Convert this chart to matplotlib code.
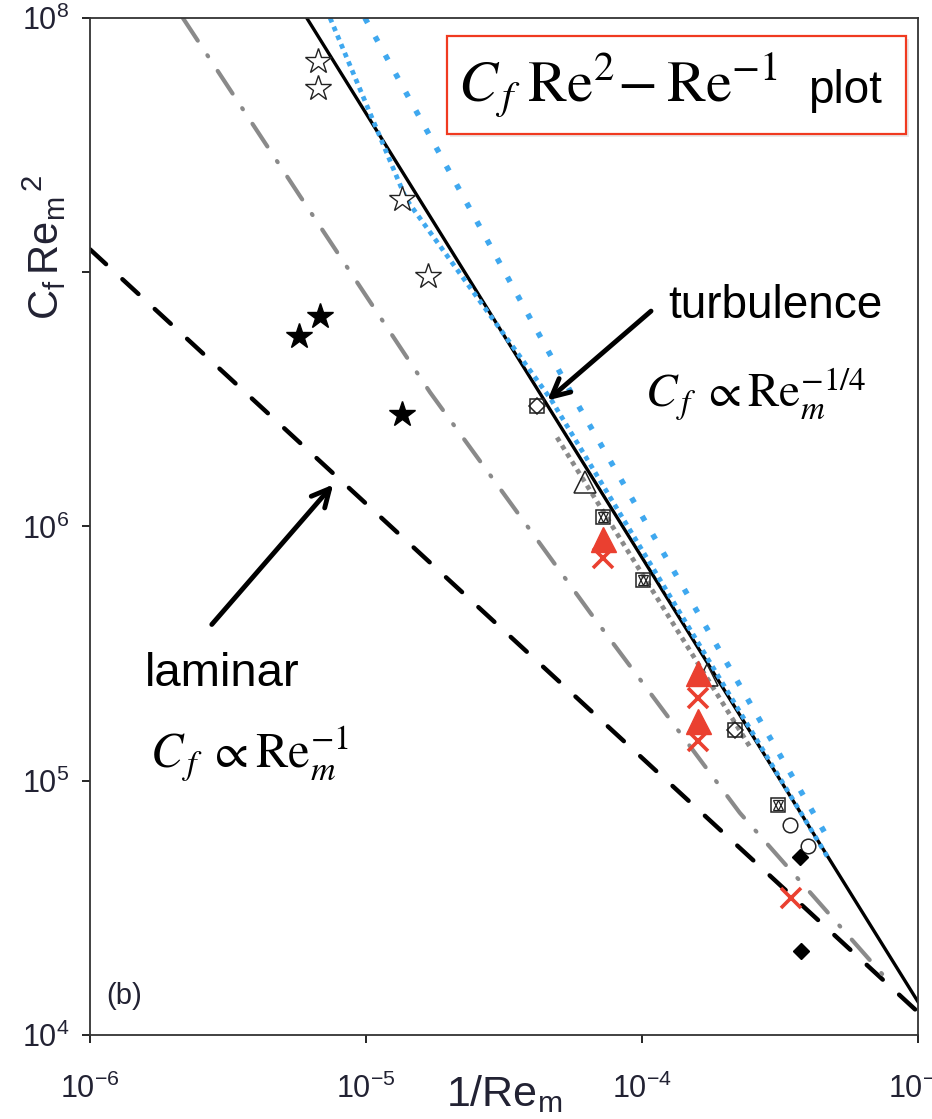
import matplotlib
matplotlib.use('Agg')
import matplotlib.pyplot as plt
from matplotlib.patches import Rectangle

plt.rcParams['font.family'] = ['Liberation Sans', 'DejaVu Sans']
plt.rcParams['mathtext.fontset'] = 'custom'
plt.rcParams['mathtext.rm'] = 'Liberation Sans'
plt.rcParams['mathtext.it'] = 'Liberation Sans:italic'
plt.rcParams['mathtext.bf'] = 'Liberation Sans:bold'

# lines: x = 1/Re_m, y = Cf Re_m^2
turb_x = [6.1e-6, 1e-3]
turb_y = [1e8, 1.35e4]
lam_x = [1e-6, 1e-3]
lam_y = [1.23e7, 1.23e4]
blue_near_x = [7.41e-6, 1.397e-5, 4.68e-5, 4.72e-4]
blue_near_y = [1e8, 1.94e7, 3.16e6, 4.98e4]
blue_far_x = [9.91e-6, 5.71e-5, 4.68e-4]
blue_far_y = [1e8, 3.16e6, 6.03e4]
grey_dot_x = [4.92e-5, 2.46e-4]
grey_dot_y = [2.24e6, 1.36e5]
grey_dd_x = [2.17e-6, 5.77e-6, 1.706e-5, 6.49e-5, 2.26e-4, 7.58e-4]
grey_dd_y = [1e8, 1.99e7, 3.37e6, 4.58e5, 7.48e4, 1.69e4]

# data points
open_star_x = [6.70e-6, 6.70e-6, 1.35e-5, 1.68e-5]
open_star_y = [6.78e7, 5.30e7, 1.94e7, 9.64e6]
full_star_x = [6.81e-6, 5.71e-6, 1.35e-5]
full_star_y = [6.71e6, 5.60e6, 2.76e6]
sq_dia_x = [4.17e-5, 2.17e-4]
sq_dia_y = [2.97e6, 1.59e5]
open_tri_x = [6.21e-5, 1.72e-4]
open_tri_y = [1.49e6, 2.61e5]
sq_hex_x = [7.23e-5, 1.01e-4, 3.11e-4]
sq_hex_y = [1.09e6, 6.18e5, 8.06e4]
red_tri_x = [7.23e-5, 1.60e-4, 1.60e-4]
red_tri_y = [8.9e5, 2.66e5, 1.71e5]
red_x_x = [7.23e-5, 1.60e-4, 1.60e-4, 3.47e-4]
red_x_y = [7.55e5, 2.12e5, 1.43e5, 3.46e4]
circ_x = [3.44e-4, 3.99e-4]
circ_y = [6.71e4, 5.55e4]
full_dia_x = [3.73e-4, 3.77e-4]
full_dia_y = [5.02e4, 2.14e4]

xticks = [1e-6, 1e-5, 1e-4, 1e-3]
xtick_labels = ['$10^{-6}$', '$10^{-5}$', '$10^{-4}$', '$10^{-3}$']
yticks = [1e4, 1e5, 1e6, 1e7, 1e8]
ytick_labels = ['$10^4$', '$10^5$', '$10^6$', '', '$10^8$']

blue = '#3fa8ef'
grey = '#8a8a8a'
red = '#ea4030'

fig = plt.figure(figsize=(9.32, 11.19), dpi=100)
ax = fig.add_axes([0.0966, 0.0751, 0.8884, 0.9088])
ax.set_xscale('log')
ax.set_yscale('log')
ax.set_xlim(1e-6, 1e-3)
ax.set_ylim(1e4, 1e8)

ax.plot(lam_x, lam_y, color='black', lw=3.2, ls=(0, (4.9, 5.0)), dash_capstyle='round')
ax.plot(grey_dd_x, grey_dd_y, color=grey, lw=3.0, ls=(0, (6.5, 4.2, 0.3, 4.2)), dash_capstyle='round')
ax.plot(turb_x, turb_y, color='black', lw=2.4)
ax.plot(grey_dot_x, grey_dot_y, color=grey, lw=3.4, ls=(0, (1, 1.0)))
ax.plot(blue_near_x, blue_near_y, color=blue, lw=3.4, ls=(0, (1, 1.0)))
ax.plot(blue_far_x, blue_far_y, color=blue, lw=4.0, ls=(0, (1, 2.8)))

ms_kw = dict(ls='none', zorder=5)
ax.plot(open_star_x, open_star_y, marker='*', ms=19, mfc='white', mec='#222', mew=1.0, **ms_kw)
ax.plot(full_star_x, full_star_y, marker='*', ms=19, mfc='black', mec='black', **ms_kw)
ax.plot(sq_dia_x, sq_dia_y, marker='s', ms=10.5, mfc='none', mec='#222', mew=1.1, **ms_kw)
ax.plot(sq_dia_x, sq_dia_y, marker='D', ms=8, mfc='none', mec='#222', mew=1.1, **ms_kw)
ax.plot(open_tri_x, open_tri_y, marker='^', ms=16, mfc='none', mec='#222', mew=1.1, **ms_kw)
ax.plot(sq_hex_x, sq_hex_y, marker='s', ms=10.5, mfc='none', mec='#222', mew=1.1, **ms_kw)
ax.plot(sq_hex_x, sq_hex_y, marker='^', ms=7, mfc='none', mec='#222', mew=0.9, **ms_kw)
ax.plot(sq_hex_x, sq_hex_y, marker='v', ms=7, mfc='none', mec='#222', mew=0.9, **ms_kw)
ax.plot(red_tri_x, red_tri_y, marker='^', ms=18, mfc=red, mec=red, **ms_kw)
ax.plot(red_x_x, red_x_y, marker='x', ms=14, mec=red, mew=2.6, **ms_kw)
ax.plot(circ_x, circ_y, marker='o', ms=10.5, mfc='white', mec='#222', mew=1.1, **ms_kw)
ax.plot(full_dia_x, full_dia_y, marker='D', ms=8, mfc='black', mec='black', **ms_kw)

ax.set_xticks(xticks)
ax.set_xticklabels(xtick_labels)
ax.set_yticks(yticks)
ax.set_yticklabels(ytick_labels)
ax.minorticks_off()
ax.tick_params(axis='both', direction='out', length=6, width=1.2, labelsize=22,
               labelcolor='#222233')
ax.tick_params(axis='x', pad=22)
ax.tick_params(axis='y', pad=9)
for sp in ax.spines.values():
    sp.set_linewidth(1.3)
    sp.set_color('#333333')

ax.set_xlabel(r'$\mathrm{1/Re_m}$', fontsize=31, color='#222233', va='top')
ax.xaxis.set_label_coords(0.5, -0.038)
ax.set_ylabel(r'$\mathrm{C_f\,Re_m}^{\,2}$', fontsize=30, color='#222233')
ax.yaxis.set_label_coords(-0.027, 0.775)

ax.text(0.02, 0.03, '(b)', transform=ax.transAxes, fontsize=21, color='#222233')

# arrows
ax.annotate('', xy=(4.46e-5, 3.08e6), xytext=(1.097e-4, 7.15e6),
            arrowprops=dict(arrowstyle='->', lw=3.5, color='black', mutation_scale=32))
ax.annotate('', xy=(7.72e-6, 1.49e6), xytext=(2.72e-6, 4.04e5),
            arrowprops=dict(arrowstyle='->', lw=3.5, color='black', mutation_scale=32))

fig.text(0.7167, 0.7158, 'turbulence', fontsize=33, va='baseline')
fig.text(0.692, 0.6354, r'$C_{\,f}\;\propto \mathrm{Re}_m^{-1/4}$', fontsize=34,
         va='baseline', math_fontfamily='stix')
fig.text(0.1556, 0.3869, 'laminar', fontsize=34, va='baseline')
fig.text(0.161, 0.3146, r'$C_{\,f}\;\propto \mathrm{Re}_m^{-1}$', fontsize=35,
         va='baseline', math_fontfamily='stix')

fig.patches.append(Rectangle((0.4826, 0.8776), 0.4925, 0.0876, transform=fig.transFigure,
                             facecolor='#dddddd', edgecolor='none', alpha=0.6))
fig.patches.append(Rectangle((0.4796, 0.8803), 0.4925, 0.0876, transform=fig.transFigure,
                             facecolor='white', edgecolor='#f03a20', lw=1.6))
fig.text(0.4914, 0.9088, r'$C_{\,f}\;\mathrm{Re}^2\!-\mathrm{Re}^{-1}$', fontsize=42,
         va='baseline', math_fontfamily='stix')
fig.text(0.867, 0.908, 'plot', fontsize=33, va='baseline')

fig.savefig('out.png', dpi=100)
